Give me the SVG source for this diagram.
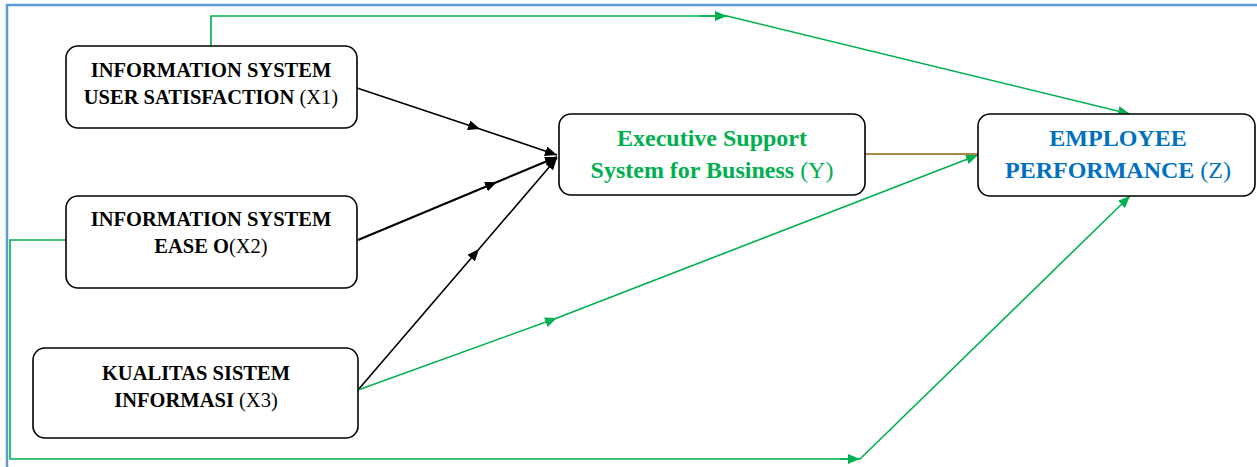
<svg xmlns="http://www.w3.org/2000/svg" width="1257" height="467" viewBox="0 0 1257 467">
<defs>
<style>
.box{fill:#fff;stroke:#000;stroke-width:1.6}
.t{font-family:"Liberation Serif","Times New Roman",serif;font-weight:bold;text-anchor:middle}
.tx{font-size:20.5px;fill:#000}
.ty{font-size:24px;fill:#00B050}
.tz{font-size:24px;fill:#0070C0}
.n{font-weight:normal}
.blk{fill:none;stroke:#000;stroke-width:1.6}
.grn{fill:none;stroke:#00B050;stroke-width:1.6}
</style>
<marker id="ab" markerUnits="userSpaceOnUse" markerWidth="12" markerHeight="10" refX="12" refY="5" orient="auto"><path d="M0,0 L12,5 L0,10 z" fill="#000"/></marker>
<marker id="ag" markerUnits="userSpaceOnUse" markerWidth="12" markerHeight="10" refX="12" refY="5" orient="auto"><path d="M0,0 L12,5 L0,10 z" fill="#00B050"/></marker>
</defs>
<rect x="7" y="5" width="1270" height="480" fill="#fff" stroke="#5B9BD5" stroke-width="2.5"/>
<g id="connectors">
<polyline class="blk" points="357,88 480,129 557,155" marker-mid="url(#ab)" marker-end="url(#ab)"/>
<polyline class="blk" points="358,240 497,182 557,157" marker-mid="url(#ab)" marker-end="url(#ab)" style="stroke-width:2.2"/>
<polyline class="blk" points="358,390 479,249 557,158" marker-mid="url(#ab)" marker-end="url(#ab)"/>
<polyline class="grn" points="211,46 211,16 727,16"/>
<path class="grn" d="M700,16 L727,16" marker-end="url(#ag)"/>
<path class="grn" d="M727,16 L1130,114" marker-end="url(#ag)"/>
<polyline class="grn" points="358,390 557,318 978,155" marker-mid="url(#ag)" marker-end="url(#ag)"/>
<polyline class="grn" points="66,240 10,240 10,459 860,459"/>
<path class="grn" d="M840,459 L860,459" marker-end="url(#ag)"/>
<path class="grn" d="M860,459 L1130,196" marker-end="url(#ag)"/>
<line x1="865" y1="154" x2="978" y2="154" stroke="#A88B45" stroke-width="2"/>
</g>
<g id="x1">
<rect class="box" x="66" y="46" width="291" height="82" rx="12"/>
<text class="t tx" x="211" y="77">INFORMATION SYSTEM</text>
<text class="t tx" x="211" y="104">USER SATISFACTION <tspan class="n">(X1)</tspan></text>
</g>
<g id="x2">
<rect class="box" x="66" y="196" width="291" height="92" rx="12"/>
<text class="t tx" x="211" y="226">INFORMATION SYSTEM</text>
<text class="t tx" x="211" y="253">EASE O<tspan class="n">(X2)</tspan></text>
</g>
<g id="x3">
<rect class="box" x="33" y="348" width="325" height="90" rx="12"/>
<text class="t tx" x="196" y="380">KUALITAS SISTEM</text>
<text class="t tx" x="196" y="407">INFORMASI <tspan class="n">(X3)</tspan></text>
</g>
<g id="y">
<rect class="box" x="559" y="114" width="306" height="81" rx="12"/>
<text class="t ty" x="712" y="146">Executive Support</text>
<text class="t ty" x="712" y="178">System for Business <tspan class="n">(Y)</tspan></text>
</g>
<g id="z">
<rect class="box" x="978" y="114" width="277" height="82" rx="12"/>
<text class="t tz" x="1118" y="146">EMPLOYEE</text>
<text class="t tz" x="1118" y="178">PERFORMANCE <tspan class="n">(Z)</tspan></text>
</g>
</svg>
